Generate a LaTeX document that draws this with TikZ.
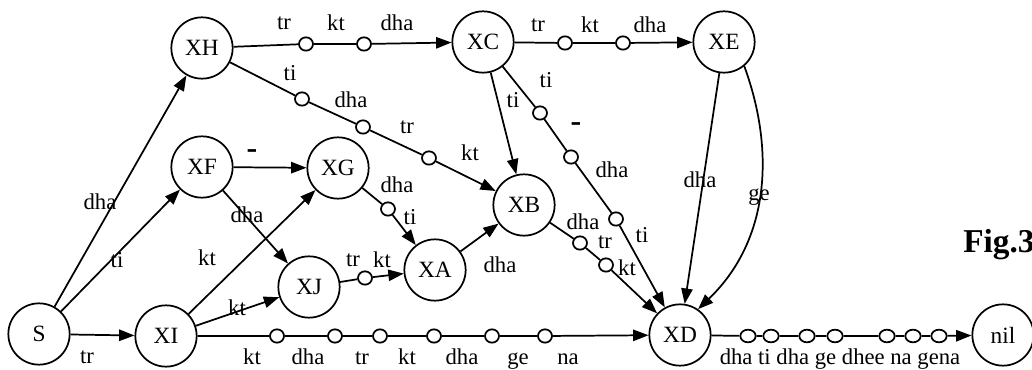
\documentclass[tikz,border=0pt]{standalone}
\usepackage{fontspec}
\setmainfont{Liberation Serif}
\usetikzlibrary{arrows.meta,shapes.geometric}
\tikzset{
  state/.style={circle,draw,line width=1.3pt,minimum size=46pt,inner sep=0pt,font=\fontsize{17.5}{20}\selectfont},
  dot/.style={ellipse,draw,fill=white,line width=1.3pt,minimum width=10.5pt,minimum height=10pt,inner sep=0pt},
  edot/.style={dot,minimum width=11.5pt,minimum height=9.5pt},
  lab/.style={inner sep=0pt,font=\fontsize{17}{19}\selectfont},
  arr/.style={line width=1.3pt,-{Triangle[length=11.5pt,width=8.5pt]}}
}
\begin{document}
\begin{tikzpicture}[x=0.75pt,y=-0.75pt]
\useasboundingbox (0,0) rectangle (1032,370);
\foreach \n/\x/\y in {S/39/334,XI/166/336,XH/202/48,XF/202/167,XG/338/168,XJ/309/287,XA/435/270,XB/524/205,XC/483/42,XE/724/42,XD/680/335,nil/1003/335}
  \node[state] (\n) at (\x,\y) {\n};
\foreach \n/\x/\y in {h1/306/44,h2/364/44,c1/565/43,c2/623/43,b1/302/99,b2/363/127,b3/429/158,d1/540/113,d2/571/157,d3/616/219,i1/277/336,i2/335/336,i3/380/336,i4/434/336,i5/492/336,i6/545/336,g1/388/209,j1/365/278,e1/580/243,e2/606/265}
  \node[dot] (\n) at (\x,\y) {};
\foreach \x [count=\i] in {748,771,807,835,887,913,939}
  \node[edot] (n\i) at (\x,336) {};
\foreach \t/\x/\y [count=\i] in {dha/100/202,ti/117/260,tr/87/357,tr/284/23,kt/336/23,dha/397/23,tr/538/25,kt/590/25,dha/650/25,ti/290/73,dha/351/100,tr/407/127,kt/470/153,ti/513/100,ti/546/80,dha/612/170,ti/642/235,dha/700/180,ge/759/197,dha/247/215,kt/207/258,kt/237/308,dha/397/185,ti/410/217,tr/353/260,kt/382/260,dha/500/265,dha/583/222,tr/605/242,kt/627/268}
  \node[lab] (t\i) at (\x,\y) {\t};
\foreach \t/\x [count=\i] in {kt/252,dha/308,tr/362,kt/407,dha/462,ge/518,na/568}
  \node[lab,anchor=base] (w\i) at (\x,364) {\t};
\node[lab,anchor=base] (seq) at (840,364) {dha ti dha ge dhee na gena};
\node[lab,font=\fontsize{24}{26}\bfseries\selectfont] (m1) at (252,154) {-};
\node[lab,font=\fontsize{24}{26}\bfseries\selectfont] (m2) at (576,127) {-};
\node[inner sep=0pt,anchor=base west,font=\fontsize{25}{28}\bfseries\selectfont] (fig) at (963,253) {Fig.3};
\draw[arr] (S) -- (XH);
\draw[arr] (S) -- (XF);
\draw[arr] (S) -- (XI);
\draw[arr] (XH) -- (h1) -- (h2) -- (XC);
\draw[arr] (XH) -- (b1) -- (b2) -- (b3) -- (XB);
\draw[arr] (XC) -- (c1) -- (c2) -- (XE);
\draw[arr] (XC) -- (XB);
\draw[arr] (XC) -- (d1) -- (d2) -- (d3) -- (XD);
\draw[arr] (XE) -- (XD);
\draw[arr] (XE.-50) .. controls (775,150) and (770,240) .. (XD.55);
\draw[arr] (XF) -- (XG);
\draw[arr] (XF) -- (XJ);
\draw[arr] (XI) -- (XG);
\draw[arr] (XI) -- (XJ);
\draw[arr] (XI) -- (i1) -- (i2) -- (i3) -- (i4) -- (i5) -- (i6) -- (XD);
\draw[arr] (XG) -- (g1) -- (XA);
\draw[arr] (XJ) -- (j1) -- (XA);
\draw[arr] (XA) -- (XB);
\draw[arr] (XB) -- (e1) -- (e2) -- (XD);
\draw[arr] (XD) -- (n1) -- (n2) -- (n3) -- (n4) -- (n5) -- (n6) -- (n7) -- (nil);
\end{tikzpicture}
\end{document}
